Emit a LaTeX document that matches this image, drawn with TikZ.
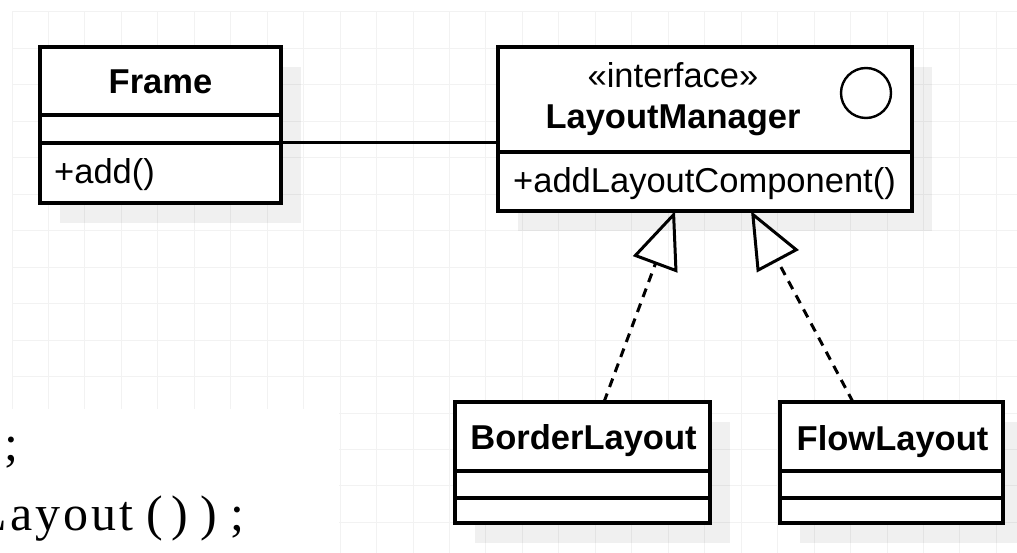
\documentclass[tikz,border=0pt]{standalone}
\usepackage{fontspec}
\setmainfont{Liberation Sans}
\newfontfamily\codefont{Liberation Serif}
\usetikzlibrary{arrows.meta,calc}
\pgfdeclarelayer{grid}
\pgfdeclarelayer{shadowlayer}
\pgfsetlayers{grid,shadowlayer,main}

\begin{document}
\begin{tikzpicture}[x=1pt,y=-1pt,
  cell/.style={draw, fill=white, line width=3.2pt, inner sep=0pt, outer sep=0pt, anchor=north west},
  classname/.style={inner sep=0pt, font=\fontsize{34.5}{40}\selectfont\bfseries},
  member/.style={inner sep=0pt, font=\fontsize{34.5}{40}\selectfont},
  gridline/.style={draw=black!5, line width=1pt},
  boxshadow/.style={fill=black, opacity=0.06},
  assoc/.style={draw, line width=3pt},
  realize/.style={draw, line width=3pt, dash pattern=on 9pt off 7pt,
    -{Triangle[open, length=57pt, width=47pt]}},
  codetext/.style={inner sep=0pt, anchor=base west, font=\fontsize{50}{56}\selectfont\codefont}
]
\useasboundingbox (0,0) rectangle (1017,553);

% background grid, with the text strip at the lower left left blank
\begin{pgfonlayer}{grid}
  \fill[white] (0,0) rectangle (1017,553);
  \foreach \k in {0,...,27}
    \draw[gridline] ({12+36.46*\k},12) -- ({12+36.46*\k},553);
  \foreach \k in {0,...,14}
    \draw[gridline] (12,{12+36.46*\k}) -- (1017,{12+36.46*\k});
  \fill[white] (0,409) rectangle (339,553);
\end{pgfonlayer}

% Frame
\node[cell, minimum width=241pt, minimum height=68pt] (frame) at (40,47) {};
\node[cell, minimum width=241pt, minimum height=28pt] (frameattr) at (40,115) {};
\node[cell, minimum width=241pt, minimum height=60pt] (frameops) at (40,143) {};
\node[classname, anchor=base] (framename) at (160.5,94) {Frame};
\node[member, anchor=base west] (frameop) at (54,184) {+add()};

% LayoutManager interface
\node[cell, minimum width=414pt, minimum height=105pt] (lm) at (498,47) {};
\node[cell, minimum width=414pt, minimum height=59pt] (lmops) at (498,152) {};
\node[circle, draw, line width=2.4pt, minimum size=50pt, inner sep=0pt] (lmicon) at (866,93) {};
\node[member, anchor=base] (lmstereo) at (673,88) {«interface»};
\node[classname, anchor=base] (lmname) at (673,129) {LayoutManager};
\node[member, anchor=base west] (lmop) at (513,193) {+addLayoutComponent()};

% BorderLayout
\node[cell, minimum width=255pt, minimum height=69pt] (bl) at (455,402) {};
\node[cell, minimum width=255pt, minimum height=27pt] (blattr) at (455,471) {};
\node[cell, minimum width=255pt, minimum height=25pt] (blops) at (455,498) {};
\node[classname, anchor=base] (blname) at (583.5,449) {BorderLayout};

% FlowLayout
\node[cell, minimum width=223pt, minimum height=69pt] (fl) at (780,402) {};
\node[cell, minimum width=223pt, minimum height=27pt] (flattr) at (780,471) {};
\node[cell, minimum width=223pt, minimum height=25pt] (flops) at (780,498) {};
\node[classname, anchor=base] (flname) at (892.5,450) {FlowLayout};

% drop shadows
\begin{pgfonlayer}{shadowlayer}
  \fill[boxshadow] ($(frame.north west)+(20,20)$) rectangle ($(frameops.south east)+(20,20)$);
  \fill[boxshadow] ($(lm.north west)+(20,20)$) rectangle ($(lmops.south east)+(20,20)$);
  \fill[boxshadow] ($(bl.north west)+(20,20)$) rectangle ($(blops.south east)+(20,20)$);
  \fill[boxshadow] ($(fl.north west)+(20,20)$) rectangle ($(flops.south east)+(20,20)$);
\end{pgfonlayer}

% association and realizations
\draw[assoc] (frameops.north east) -- (frameops.north east -| lm.west);
\draw[realize] ($(bl.north)+(21.5,0)$) -- ($(lmops.south)+(-30,0)$);
\draw[realize] ($(fl.north)+(-38.5,0)$) -- ($(lmops.south)+(46,0)$);

% code lines, set with wide letter spacing
\node[codetext] (code0) at (4,460) {;};
\foreach \c/\x [count=\i] in {L/-23.5,a/10,y/35,o/63,u/91,t/119,{(}/146,{)}/171,{)}/200,{;}/230}
  \node[codetext] (code\i) at (\x,530) {\c};
\end{tikzpicture}
\end{document}
